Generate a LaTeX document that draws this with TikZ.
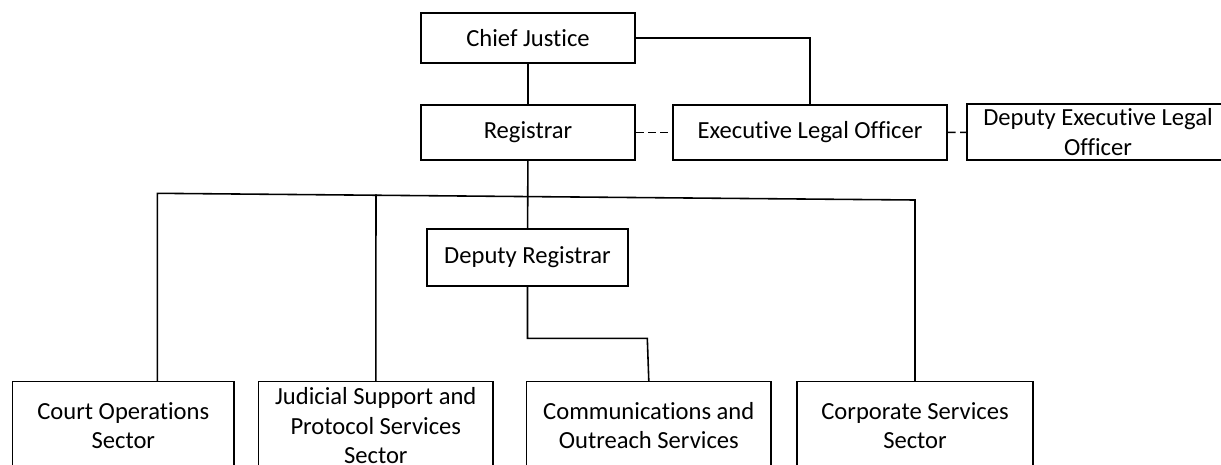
\documentclass[tikz,border=0pt]{standalone}
\usepackage{fontspec}
\setmainfont[Ligatures=NoCommon]{Carlito}
\usepackage{tikz}

\tikzset{
  unit/.style={draw, line width=0.9pt, align=center, inner sep=0pt,
    font=\fontsize{14}{17}\selectfont},
  link/.style={line width=0.9pt},
  dotlink/.style={line width=0.9pt, dash pattern=on 4.5pt off 2.5pt}
}

\begin{document}
\begin{tikzpicture}[x=0.02cm, y=-0.02cm]
        \clip[use as bounding box] (0,0) rectangle (1221,464);

        \node[unit, minimum width=4.28cm, minimum height=1.0cm] (CJ) at (528,38) {Chief Justice};
        \node[unit, minimum width=4.28cm, minimum height=1.1cm] (Reg) at (528,132.5) {Registrar};
        \node[unit, minimum width=5.48cm, minimum height=1.1cm] (ELO) at (810,132.5) {Executive Legal Officer};
        \node[unit, minimum width=5.24cm, minimum height=1.12cm] (DELO) at (1098,132.2) {Deputy Executive Legal\\Officer};
        \node[unit, minimum width=4.03cm, minimum height=1.13cm] (DR) at (527.5,257.5) {Deputy Registrar};

        \node[unit, minimum width=4.44cm, minimum height=1.76cm] (S1) at (123.3,425.6) {Court Operations\\Sector};
        \node[unit, minimum width=4.70cm, minimum height=1.76cm] (S2) at (375.8,425.6) {Judicial Support and\\Protocol Services\\Sector};
        \node[unit, minimum width=4.89cm, minimum height=1.76cm] (S3) at (648.8,425.6) {Communications and\\Outreach Services};
        \node[unit, minimum width=4.73cm, minimum height=1.76cm] (S4) at (915,425.6) {Corporate Services\\Sector};

        % bus under the registrar
        \coordinate (busL) at (157.3,193.3);
        \coordinate (busJ) at (376,194.4);
        \coordinate (busR) at (915,200);
        \coordinate (S1top) at (157.3,381.7);
        \coordinate (bend) at (647.3,338.3);

        \draw[link] (CJ) to (Reg);
        \draw[link] (CJ.east) -| (ELO.north);
        \draw[dotlink] (Reg) to (ELO);
        \draw[dotlink] (ELO) to (DELO);
        \draw[link] (Reg) to (DR);
        \draw[link] (S1top) to (busL) to (busR) to (S4.north);
        \draw[link] (busJ) to (S2.north);
        \draw[link] (DR.south) |- (bend) to (S3.north);
    \end{tikzpicture}
\end{document}
